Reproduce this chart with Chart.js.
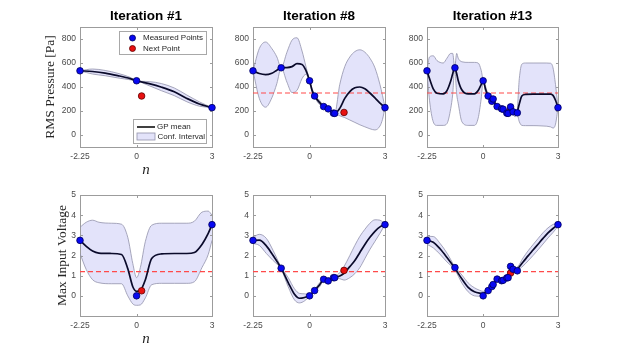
<!DOCTYPE html>
<html><head><meta charset="utf-8">
<script src="https://cdn.jsdelivr.net/npm/chart.js@4.4.1/dist/chart.umd.min.js"></script>
<style>
html,body{margin:0;padding:0;background:#fff;}
#wrap{position:relative;width:617px;height:357px;overflow:hidden;background:#fff;}
canvas{position:absolute;left:0;top:0;}
</style></head><body>
<div id="wrap">
<canvas id="cA" width="617" height="357"></canvas>
<canvas id="cB" width="617" height="357"></canvas>
<canvas id="cC" width="617" height="357"></canvas>
<canvas id="cD" width="617" height="357"></canvas>
<canvas id="cE" width="617" height="357"></canvas>
<canvas id="cF" width="617" height="357"></canvas>
</div>
<script>
// ---------- texts & ticks ----------
const titles = ['Iteration #1', 'Iteration #8', 'Iteration #13'];
const yLabelTop = 'RMS Pressure [Pa]';
const yLabelBottom = 'Max Input Voltage';
const xLabel = 'n';
const legendPoints = ['Measured Points', 'Next Point'];
const legendLines = ['GP mean', 'Conf. Interval'];
const xTickValues = [-2.25, 0, 3];
const xTickLabels = ['-2.25', '0', '3'];
const xRange = [-2.25, 3];
const topTicks = [0, 200, 400, 600, 800];
const bottomTicks = [0, 1, 2, 3, 4, 5];
const topRange = [-100, 900];
const bottomRange = [-1, 5];
const thresholdTop = 350;
const thresholdBottom = 1.2;

// ---------- Iteration #1, RMS pressure ----------
const xA = [-2.25,-1.75,-1.25,-0.75,-0.25,0,0.5,1,1.5,2,2.5,3];
const meanA = [535,529,516,495,470,452,428,398,360,305,258,228];
const upA   = [535,550,538,514,480,452,445,428,392,333,276,228];
const loA   = [535,508,494,476,460,452,411,368,328,277,240,228];
const measXA = [-2.25,0,3];
const measYA = [535,452,228];
const nextXA = [0.2];
const nextYA = [325];

// ---------- Iteration #8, RMS pressure ----------
const xB = [-2.25,-2,-1.75,-1.5,-1.3,-1.13,-0.9,-0.7,-0.5,-0.3,-0.15,0,0.1,0.2,0.35,0.56,0.74,0.95,1.0,1.2,1.4,1.6,1.8,2.0,2.2,2.4,2.6,2.8,2.9,3];
const meanB = [535,512,503,515,540,560,562,570,594,588,540,452,372,325,282,237,215,183,180,222,305,362,393,400,385,350,309,265,247,228];
const upB   = [535,720,775,720,650,560,690,790,810,700,575,455,385,332,300,245,222,190,182,420,570,650,695,710,690,640,560,420,330,228];
const loB   = [535,305,232,310,430,560,440,354,372,470,505,449,360,318,265,230,208,176,178,160,145,125,105,85,68,52,42,75,130,228];
const measXB = [-2.25,-1.13,0,0.2,0.56,0.74,0.95,1.0,3];
const measYB = [535,560,452,325,237,218,182,180,228];
const nextXB = [1.37];
const nextYB = [188];

// ---------- Iteration #13, RMS pressure ----------
const xC = [-2.25,-2.15,-2.0,-1.85,-1.6,-1.45,-1.3,-1.22,-1.14,-1.06,-1.0,-0.85,-0.6,-0.35,-0.2,-0.08,0,0.1,0.2,0.3,0.4,0.5,0.6,0.73,0.8,0.9,1.0,1.1,1.2,1.28,1.35,1.45,1.55,1.7,2.0,2.4,2.7,2.8,2.9,3];
const meanC = [535,470,385,348,342,370,450,510,560,510,455,375,342,342,370,420,452,380,325,285,295,255,228,216,213,190,180,225,195,178,185,260,325,338,340,340,340,330,290,228];
const upC   = [535,650,660,620,600,640,680,680,562,680,640,610,605,605,600,540,455,405,335,300,310,270,242,225,222,202,185,240,210,200,190,470,590,600,600,600,598,560,420,228];
const loC   = [535,290,110,80,80,95,220,340,558,340,265,110,80,80,140,300,449,355,315,270,280,240,214,207,204,178,175,210,180,150,180,110,80,78,78,75,68,58,90,228];
const measXC = [-2.25,-1.13,0,0.2,0.35,0.4,0.56,0.74,0.8,0.95,1.0,1.1,1.2,1.37,3];
const measYC = [535,560,452,325,281,300,237,218,215,182,180,234,193,185,228];
const nextXC = [1.1];
const nextYC = [212];

// ---------- Iteration #1, max input voltage ----------
const xD = [-2.25,-2.0,-1.75,-1.5,-1.0,-0.6,-0.35,-0.15,0,0.15,0.35,0.6,1.0,1.5,2.0,2.3,2.6,2.85,3];
const meanD = [2.75,2.45,2.22,2.12,2.1,2.05,1.35,0.45,0.22,0.27,0.8,1.85,2.08,2.1,2.1,2.15,2.55,3.1,3.53];
const upD   = [3.4,3.65,3.75,3.65,3.6,3.55,2.9,1.6,0.9,1.4,2.7,3.5,3.6,3.6,3.6,3.7,4.15,4.2,4.0];
const loD   = [2.1,1.3,0.8,0.65,0.6,0.6,0.0,-0.4,-0.47,-0.45,-0.1,0.55,0.62,0.62,0.62,0.7,1.4,2.05,2.75];
const measYD = [2.75,0,3.53];
const nextYD = [0.25];

// ---------- Iteration #8, max input voltage ----------
const xE = [-2.25,-2.0,-1.72,-1.45,-1.13,-0.85,-0.6,-0.4,-0.2,0,0.2,0.4,0.56,0.74,0.95,1.0,1.2,1.37,1.6,1.8,2.0,2.2,2.4,2.6,2.8,3];
const meanE = [2.75,2.76,2.48,2.0,1.37,0.66,0.08,-0.12,-0.08,0.02,0.27,0.55,0.8,0.77,0.88,0.9,0.98,1.12,1.45,1.75,2.15,2.55,2.9,3.2,3.42,3.53];
const upE   = [2.9,3.05,2.85,2.25,1.42,0.9,0.35,0.12,0.1,0.05,0.32,0.65,0.86,0.82,0.94,0.95,1.15,1.45,2.0,2.5,2.95,3.3,3.6,3.77,3.75,3.55];
const loE   = [2.6,2.5,2.1,1.75,1.32,0.45,-0.2,-0.35,-0.25,-0.02,0.22,0.45,0.75,0.72,0.84,0.86,0.85,0.78,0.9,1.1,1.4,1.85,2.3,2.7,3.1,3.53];
const measYE = [2.75,1.37,0,0.26,0.82,0.74,0.9,0.9,3.53];
const nextYE = [1.26];

// ---------- Iteration #13, max input voltage ----------
const xF = [-2.25,-2.0,-1.72,-1.45,-1.14,-0.85,-0.6,-0.35,-0.15,0,0.2,0.35,0.4,0.55,0.73,0.8,0.95,1.0,1.1,1.2,1.35,1.6,1.8,2.0,2.2,2.4,2.6,2.8,3];
const meanF = [2.75,2.66,2.32,1.9,1.38,0.83,0.42,0.2,0.13,0.12,0.28,0.45,0.55,0.75,0.76,0.8,0.9,0.95,1.2,1.3,1.33,1.68,1.98,2.27,2.56,2.85,3.12,3.34,3.53];
const upF   = [2.95,2.94,2.59,2.12,1.46,1.03,0.64,0.4,0.28,0.22,0.36,0.52,0.62,0.82,0.83,0.87,0.97,1.02,1.28,1.38,1.41,1.88,2.23,2.54,2.84,3.13,3.37,3.54,3.61];
const loF   = [2.55,2.38,2.05,1.68,1.3,0.63,0.2,0.0,-0.02,0.02,0.2,0.38,0.48,0.68,0.69,0.73,0.83,0.88,1.12,1.22,1.25,1.48,1.73,2.0,2.28,2.57,2.87,3.14,3.45];
const measYF = [2.75,1.4,0,0.26,0.46,0.56,0.83,0.75,0.77,0.89,0.9,1.46,1.32,1.24,3.53];
const nextYF = [1.13];

// ---------- styling ----------
const W = 617, H = 357;
const SANS = '"Liberation Sans", Arial, Helvetica, sans-serif';
const SERIF = '"Liberation Serif", "Times New Roman", serif';
const BAND_FILL = '#e3e3fa';
const BAND_EDGE = '#9292ab';
const MEAN_COL = '#0a0a2a';
const BLUE = '#0808f2';
const BLUE_EDGE = '#00005a';
const RED = '#e81010';
const RED_EDGE = '#600000';
const DASH_COL = '#ff4a4a';
const AXIS_COL = '#9c9c9c';
const TICK_COL = '#4a4a4a';

function pts(xs, ys) { return xs.map((x, i) => ({ x: x, y: ys[i] })); }

function panelPlugin(p) {
  return {
    id: 'panel_' + p.id,
    beforeDatasetsDraw(chart) {
      const c = chart.ctx, a = chart.chartArea;
      const L = Math.round(a.left), T = Math.round(a.top), R = Math.round(a.right), B = Math.round(a.bottom);
      c.save();
      c.strokeStyle = AXIS_COL; c.lineWidth = 1;
      c.strokeRect(L + 0.5, T + 0.5, R - L, B - T);
      c.beginPath();
      const ys = chart.scales.y, xs = chart.scales.x;
      p.yTicks.forEach(v => {
        const py = Math.round(ys.getPixelForValue(v)) + 0.5;
        c.moveTo(L, py); c.lineTo(L + 3, py);
        c.moveTo(R + 1, py); c.lineTo(R - 2, py);
      });
      xTickValues.forEach(v => {
        const px = Math.round(xs.getPixelForValue(v)) + 0.5;
        c.moveTo(px, B + 1); c.lineTo(px, B - 2);
        c.moveTo(px, T); c.lineTo(px, T + 3);
      });
      c.stroke();
      c.restore();
    },
    afterDatasetsDraw(chart) {
      if (!p.legend) return;
      const c = chart.ctx;
      c.save();
      c.fillStyle = '#ffffff'; c.strokeStyle = '#a8a8a8'; c.lineWidth = 1;
      c.fillRect(119.5, 31.5, 87, 23); c.strokeRect(119.5, 31.5, 87, 23);
      c.fillRect(133.5, 119.5, 73, 24); c.strokeRect(133.5, 119.5, 73, 24);
      c.font = '8px ' + SANS; c.fillStyle = '#262626'; c.textAlign = 'left'; c.textBaseline = 'middle';
      c.beginPath(); c.arc(132.5, 38, 3, 0, Math.PI * 2); c.fillStyle = BLUE; c.fill();
      c.lineWidth = 0.8; c.strokeStyle = BLUE_EDGE; c.stroke();
      c.beginPath(); c.arc(132.5, 48.5, 3, 0, Math.PI * 2); c.fillStyle = RED; c.fill();
      c.strokeStyle = RED_EDGE; c.stroke();
      c.fillStyle = '#262626';
      c.fillText(legendPoints[0], 143, 38);
      c.fillText(legendPoints[1], 143, 48.5);
      c.beginPath(); c.moveTo(137, 127); c.lineTo(155, 127);
      c.strokeStyle = '#000000'; c.lineWidth = 1.5; c.stroke();
      c.fillStyle = BAND_FILL; c.fillRect(137, 133, 18, 7);
      c.strokeStyle = BAND_EDGE; c.lineWidth = 0.8; c.strokeRect(137, 133, 18, 7);
      c.fillStyle = '#262626';
      c.fillText(legendLines[0], 157, 127);
      c.fillText(legendLines[1], 157.5, 137);
      c.restore();
    },
    afterDraw(chart) {
      const c = chart.ctx, a = chart.chartArea;
      const cx = (a.left + a.right) / 2;
      c.save();
      if (p.title) {
        c.font = 'bold 13.5px ' + SANS; c.fillStyle = '#000'; c.textAlign = 'center'; c.textBaseline = 'middle';
        c.fillText(p.title, cx, 16);
      }
      if (p.yLabel) {
        c.save();
        c.translate(p.yLabelX, (a.top + a.bottom) / 2);
        c.rotate(-Math.PI / 2);
        c.font = '13.5px ' + SERIF; c.fillStyle = '#262626'; c.textAlign = 'center'; c.textBaseline = 'middle';
        c.fillText(p.yLabel, 0, 0);
        c.restore();
      }
      if (p.xLabel) {
        c.font = 'italic 15px ' + SERIF; c.fillStyle = '#262626'; c.textAlign = 'center'; c.textBaseline = 'middle';
        c.fillText(p.xLabel, cx, a.bottom + 23);
      }
      c.restore();
    }
  };
}

function makeChart(p) {
  const [L, T, R, B] = p.rect;
  const yW = 30, xH = 24;
  const ds = [];
  ds.push({ data: pts(p.measX, p.measY), showLine: false, pointRadius: 3.3, pointBackgroundColor: BLUE,
            pointBorderColor: BLUE_EDGE, pointBorderWidth: 0.8, order: 0, clip: false });
  ds.push({ data: pts(p.nextX, p.nextY), showLine: false, pointRadius: 3.3, pointBackgroundColor: RED,
            pointBorderColor: RED_EDGE, pointBorderWidth: 0.8, order: 0, clip: false });
  ds.push({ data: pts(p.xs, p.mean), borderColor: MEAN_COL, borderWidth: 1.7, pointRadius: 0,
            cubicInterpolationMode: 'monotone', fill: false, order: 1 });
  if (p.thr !== null) {
    ds.push({ data: pts(xRange, [p.thr, p.thr]), borderColor: DASH_COL, borderWidth: 1.2, borderDash: [5, 3],
              pointRadius: 0, fill: false, order: 2 });
  }
  ds.push({ data: pts(p.xs, p.up), borderColor: BAND_EDGE, borderWidth: 0.8, pointRadius: 0,
            cubicInterpolationMode: 'monotone', fill: '+1', backgroundColor: BAND_FILL, order: 3 });
  ds.push({ data: pts(p.xs, p.lo), borderColor: BAND_EDGE, borderWidth: 0.8, pointRadius: 0,
            cubicInterpolationMode: 'monotone', fill: false, order: 4 });

  new Chart(document.getElementById(p.id), {
    type: 'line',
    data: { datasets: ds },
    options: {
      responsive: false, animation: false, events: [],
      layout: { padding: { left: L - yW, top: T, right: W - R, bottom: H - B - xH } },
      plugins: { legend: { display: false }, tooltip: { enabled: false }, title: { display: false },
                 filler: { drawTime: 'beforeDatasetsDraw' } },
      scales: {
        x: {
          type: 'linear', min: xRange[0], max: xRange[1],
          afterBuildTicks: s => { s.ticks = xTickValues.map(v => ({ value: v })); },
          afterFit: s => { s.height = xH; },
          grid: { display: false, drawTicks: false }, border: { display: false },
          ticks: { padding: 5, autoSkip: false, maxRotation: 0, color: TICK_COL,
                   font: { family: SANS, size: 8.5 },
                   callback: v => xTickLabels[xTickValues.indexOf(v)] }
        },
        y: {
          type: 'linear', min: p.yRange[0], max: p.yRange[1],
          afterBuildTicks: s => { s.ticks = p.yTicks.map(v => ({ value: v })); },
          afterFit: s => { s.width = yW; },
          grid: { display: false, drawTicks: false }, border: { display: false },
          ticks: { padding: 4, autoSkip: false, color: TICK_COL, font: { family: SANS, size: 8.5 },
                   callback: v => String(v) }
        }
      }
    },
    plugins: [panelPlugin(p)]
  });
}

const panels = [
  { id: 'cA', rect: [80, 27, 212, 147], xs: xA, mean: meanA, up: upA, lo: loA, measX: measXA, measY: measYA,
    nextX: nextXA, nextY: nextYA, thr: null, yTicks: topTicks, yRange: topRange, title: titles[0],
    yLabel: yLabelTop, yLabelX: 50, xLabel: xLabel, legend: true },
  { id: 'cB', rect: [253, 27, 385, 147], xs: xB, mean: meanB, up: upB, lo: loB, measX: measXB, measY: measYB,
    nextX: nextXB, nextY: nextYB, thr: thresholdTop, yTicks: topTicks, yRange: topRange, title: titles[1] },
  { id: 'cC', rect: [427, 27, 558, 147], xs: xC, mean: meanC, up: upC, lo: loC, measX: measXC, measY: measYC,
    nextX: nextXC, nextY: nextYC, thr: thresholdTop, yTicks: topTicks, yRange: topRange, title: titles[2] },
  { id: 'cD', rect: [80, 195, 212, 316], xs: xD, mean: meanD, up: upD, lo: loD, measX: measXA, measY: measYD,
    nextX: nextXA, nextY: nextYD, thr: thresholdBottom, yTicks: bottomTicks, yRange: bottomRange,
    yLabel: yLabelBottom, yLabelX: 62, xLabel: xLabel },
  { id: 'cE', rect: [253, 195, 385, 316], xs: xE, mean: meanE, up: upE, lo: loE, measX: measXB, measY: measYE,
    nextX: nextXB, nextY: nextYE, thr: thresholdBottom, yTicks: bottomTicks, yRange: bottomRange },
  { id: 'cF', rect: [427, 195, 558, 316], xs: xF, mean: meanF, up: upF, lo: loF, measX: measXC, measY: measYF,
    nextX: nextXC, nextY: nextYF, thr: thresholdBottom, yTicks: bottomTicks, yRange: bottomRange }
];
panels.forEach(makeChart);
</script>
</body></html>
